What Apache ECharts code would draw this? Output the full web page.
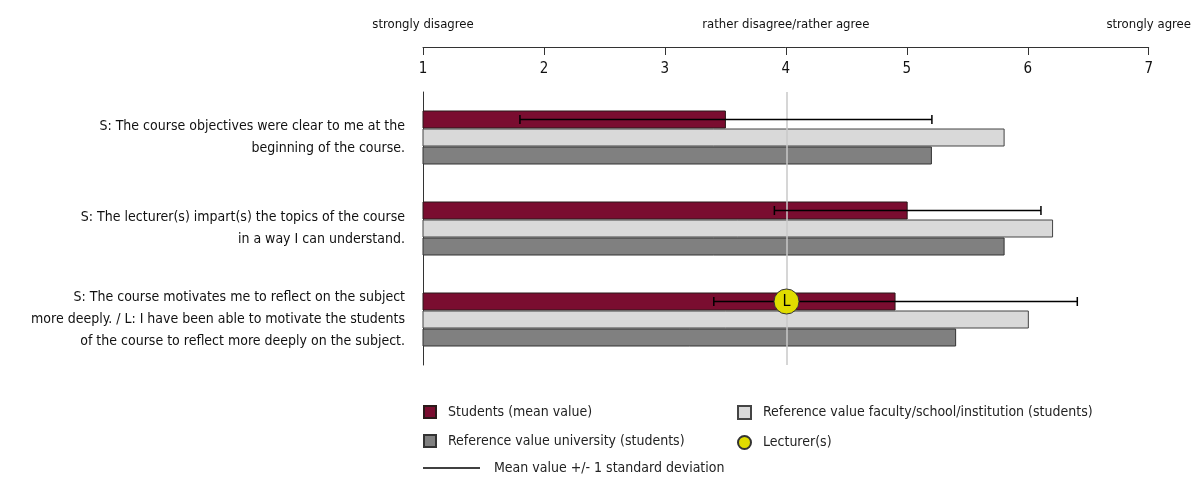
<!DOCTYPE html>
<html>
<head>
<meta charset="utf-8">
<script src="https://cdn.jsdelivr.net/npm/echarts@6/dist/echarts.min.js"></script>
<style>
  html, body { margin: 0; padding: 0; background: #fff; }
  #chart { width: 1194px; height: 483px; }
</style>
</head>
<body>
<div id="chart"></div>
<script>
(function() {
  const questions = [
    'S: The course objectives were clear to me at the\nbeginning of the course.',
    'S: The lecturer(s) impart(s) the topics of the course\nin a way I can understand.',
    'S: The course motivates me to reflect on the subject\nmore deeply. / L: I have been able to motivate the students\nof the course to reflect more deeply on the subject.'
  ];
  const studentMean = [3.5, 5.0, 4.9];
  const studentLow = [1.8, 3.9, 3.4];
  const studentHigh = [5.2, 6.1, 6.4];
  const facultyRef = [5.8, 6.2, 6.0];
  const universityRef = [5.2, 5.8, 5.4];
  const lecturer = [null, null, 4.0];
  const scaleTexts = ['strongly disagree', 'rather disagree/rather agree', 'strongly agree'];
  const scaleTextValues = [1, 4, 7];

  const font = '"Liberation Sans Narrow", "DejaVu Sans Condensed", "Roboto Condensed", sans-serif';
  const barW = 18;
  const names = {
    students: 'Students (mean value)',
    faculty: 'Reference value faculty/school/institution (students)',
    university: 'Reference value university (students)',
    lecturer: 'Lecturer(s)',
    sd: 'Mean value +/- 1 standard deviation'
  };

  const errors = studentLow.map((v, i) => [i, v, studentHigh[i]]);
  const lecturerPts = [];
  lecturer.forEach((v, i) => { if (v != null) lecturerPts.push([v, i]); });

  const legendText = { fontFamily: font, fontSize: 14, color: '#222', padding: [0, 0, 0, 7] };

  const option = {
    animation: false,
    textStyle: { fontFamily: font },
    grid: [
      { left: 423, right: 44, top: 46, height: 1 },
      { left: 423, right: 44, top: 92, height: 273 }
    ],
    xAxis: [{
      gridIndex: 0, type: 'value', position: 'top', min: 1, max: 7, interval: 1,
      axisLine: { show: true, lineStyle: { color: '#333', width: 1 } },
      axisTick: { show: true, inside: true, length: 8, lineStyle: { color: '#333' } },
      axisLabel: { inside: true, margin: 16, fontSize: 15, color: '#111', fontFamily: font },
      splitLine: { show: false }
    }, {
      gridIndex: 1, type: 'value', min: 1, max: 7, show: false
    }, {
      gridIndex: 0, type: 'value', position: 'top', min: 1, max: 7,
      axisLine: { show: false }, axisTick: { show: false }, splitLine: { show: false },
      axisLabel: {
        margin: 15, fontSize: 13, color: '#111', fontFamily: font,
        customValues: scaleTextValues,
        formatter: v => scaleTexts[scaleTextValues.indexOf(v)]
      }
    }],
    yAxis: [{
      gridIndex: 0, type: 'value', show: false
    }, {
      gridIndex: 1, type: 'category', inverse: true, data: questions,
      axisLine: { show: true, lineStyle: { color: '#333' } },
      axisTick: { show: false },
      axisLabel: { margin: 18, fontSize: 14, lineHeight: 22, color: '#111', fontFamily: font, align: 'right' }
    }],
    legend: [{
      left: 423, top: 405, padding: 0, orient: 'vertical', itemGap: 15, itemWidth: 12, itemHeight: 12,
      data: [{ name: names.students, icon: 'rect' }, { name: names.university, icon: 'rect' }],
      textStyle: legendText, selectedMode: false
    }, {
      left: 737, top: 405, padding: 0, orient: 'vertical', itemGap: 15, itemWidth: 13, itemHeight: 13,
      data: [{ name: names.faculty, icon: 'rect' }, { name: names.lecturer, icon: 'circle' }],
      textStyle: legendText, selectedMode: false
    }, {
      left: 423, top: 461, padding: 0, itemWidth: 57, itemHeight: 1.5,
      data: [{ name: names.sd, icon: 'rect' }],
      textStyle: Object.assign({}, legendText, { padding: [0, 0, 0, 9] }), selectedMode: false
    }],
    series: [{
      type: 'line', xAxisIndex: 1, yAxisIndex: 1, data: [], z: 1, silent: true,
      markLine: {
        silent: true, symbol: 'none', label: { show: false },
        lineStyle: { color: '#c8c8c8', width: 1.5, type: 'solid' },
        data: [{ xAxis: 4 }]
      }
    }, {
      name: names.students, type: 'bar', xAxisIndex: 1, yAxisIndex: 1, z: 2,
      barWidth: barW, barGap: '0%', data: studentMean,
      itemStyle: { color: '#7a0d30', borderColor: '#2a1a1a', borderWidth: 1 }
    }, {
      name: names.faculty, type: 'bar', xAxisIndex: 1, yAxisIndex: 1, z: 2,
      barWidth: barW, barGap: '0%', data: facultyRef,
      itemStyle: { color: '#d9d9d9', borderColor: '#444', borderWidth: 1 }
    }, {
      name: names.university, type: 'bar', xAxisIndex: 1, yAxisIndex: 1, z: 2,
      barWidth: barW, barGap: '0%', data: universityRef,
      itemStyle: { color: '#808080', borderColor: '#333', borderWidth: 1 }
    }, {
      name: names.sd, type: 'custom', xAxisIndex: 1, yAxisIndex: 1, z: 5,
      itemStyle: { color: '#000' },
      encode: { x: [1, 2], y: 0 },
      data: errors,
      renderItem: function(params, api) {
        const p1 = api.coord([api.value(1), api.value(0)]);
        const p2 = api.coord([api.value(2), api.value(0)]);
        const y = p1[1] - barW;
        const st = { stroke: '#000', lineWidth: 1.5 };
        return {
          type: 'group',
          children: [
            { type: 'line', shape: { x1: p1[0], y1: y, x2: p2[0], y2: y }, style: st },
            { type: 'line', shape: { x1: p1[0], y1: y - 4.5, x2: p1[0], y2: y + 4.5 }, style: st },
            { type: 'line', shape: { x1: p2[0], y1: y - 4.5, x2: p2[0], y2: y + 4.5 }, style: st }
          ]
        };
      }
    }, {
      name: names.lecturer, type: 'scatter', xAxisIndex: 1, yAxisIndex: 1, z: 6,
      symbol: 'circle', symbolSize: 25, symbolOffset: [0, -barW],
      data: lecturerPts,
      itemStyle: { color: '#e0dc00', borderColor: '#333', borderWidth: 1, opacity: 1 },
      label: { show: true, position: 'inside', formatter: 'L', fontSize: 16, color: '#000', fontFamily: font }
    }]
  };

  const chart = echarts.init(document.getElementById('chart'));
  chart.setOption(option);
}());
</script>
</body>
</html>
